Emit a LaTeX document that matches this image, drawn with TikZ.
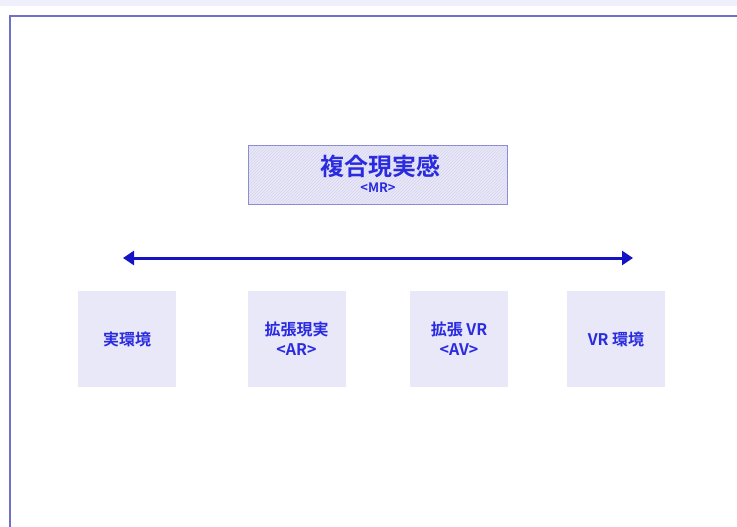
\documentclass[tikz,border=0pt]{standalone}
\usepackage{fontspec}
\newfontfamily\cjk{Noto Sans CJK JP Bold}
\usetikzlibrary{patterns,arrows.meta}
\definecolor{txtblue}{HTML}{2A2AE0}
\definecolor{framec}{HTML}{7070C8}
\definecolor{boxfill}{HTML}{E8E8F8}
\definecolor{topstrip}{HTML}{F0F0FC}
\definecolor{arrowc}{HTML}{1414C4}
\tikzset{
  x=1pt,y=-1pt,
  envbox/.style={fill=boxfill, draw=none, minimum width=98pt, minimum height=96pt, align=center, text=txtblue, font=\cjk\fontsize{16}{20}\selectfont, inner sep=0pt},
  mrbox/.style={draw=framec!80, line width=1pt, minimum width=259pt, minimum height=59pt, inner sep=0pt},
  mrtext/.style={text=txtblue, inner sep=0pt},
}
\begin{document}
\begin{tikzpicture}
\useasboundingbox (0,0) rectangle (737,527);
\fill[white] (0,0) rectangle (737,527);
\fill[topstrip] (0,0) rectangle (737,6);
\draw[framec, line width=2pt] (9.5,530) -- (9.5,16.5) -- (740,16.5);
\fill[boxfill] (248,145) rectangle (507,204);
\fill[pattern=north east lines, pattern color=framec!30] (248,145) rectangle (507,204);
\node[mrbox] (mr) at (377.5,174.5) {};
\node[mrtext, font=\cjk\fontsize{24}{26}\selectfont] (mrtitle) at (380,166) {複合現実感};
\node[mrtext, font=\cjk\fontsize{13}{15}\selectfont] (mrsub) at (378,187.5) {<MR>};
\node[envbox] (real) at (127,339) {実環境};
\node[envbox] (ar) at (296.5,339) {拡張現実\\<AR>};
\node[envbox] (av) at (459,339) {拡張 VR\\<AV>};
\node[envbox] (vr) at (616,339) {VR 環境};
\coordinate (al) at (123,258);
\coordinate (ar2) at (633,258);
\draw[arrowc, line width=3pt, {Triangle[length=11pt,width=14pt]}-{Triangle[length=11pt,width=14pt]}] (al) -- (ar2);
\end{tikzpicture}
\end{document}
